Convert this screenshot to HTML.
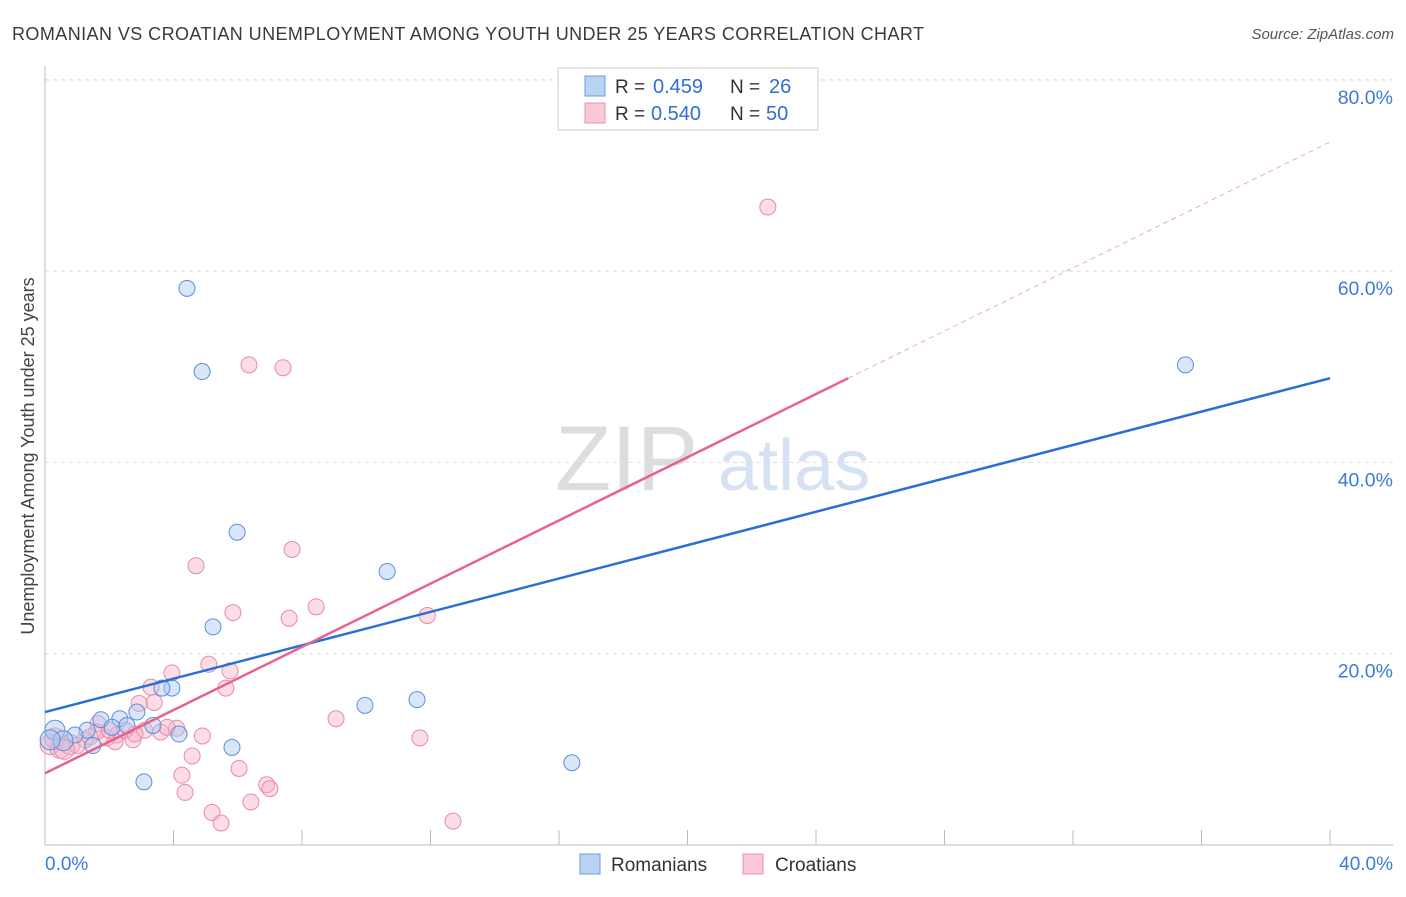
<!DOCTYPE html>
<html><head><meta charset="utf-8"><style>
body{margin:0;background:#fff;font-family:"Liberation Sans",sans-serif;}
svg text{font-family:"Liberation Sans",sans-serif;}
</style></head><body>
<svg id="c" width="1406" height="892">
<text x="12" y="40" font-size="18" fill="#3a3a3a" textLength="912" lengthAdjust="spacing">ROMANIAN VS CROATIAN UNEMPLOYMENT AMONG YOUTH UNDER 25 YEARS CORRELATION CHART</text>
<text x="1394" y="39" font-size="15" fill="#555" font-style="italic" text-anchor="end">Source: ZipAtlas.com</text>
<text x="34" y="456" font-size="18" fill="#444" text-anchor="middle" transform="rotate(-90 34 456)">Unemployment Among Youth under 25 years</text>
<g><text x="555" y="490" font-size="92" fill="#ddd" font-family="Liberation Serif">ZIP</text><text x="718" y="490" font-size="72" fill="#d4e2f4">atlas</text></g>
<g id="grid"></g><g id="marks"></g>
<g>
<rect x="558" y="68" width="260" height="62" fill="#fff" stroke="#ccc"/>
<rect x="585" y="76" width="20" height="20" fill="#b9d3f3" stroke="#6a9ee0"/>
<rect x="585" y="103" width="20" height="20" fill="#f9c9d7" stroke="#e890ab"/>
<text x="615" y="93" font-size="19" fill="#333">R =</text><text x="653" y="93" font-size="20" fill="#2f6fd6">0.459</text>
<text x="730" y="93" font-size="19" fill="#333">N =</text><text x="769" y="93" font-size="20" fill="#2f6fd6">26</text>
<text x="615" y="120" font-size="19" fill="#333">R =</text><text x="651" y="120" font-size="20" fill="#2f6fd6">0.540</text>
<text x="730" y="120" font-size="19" fill="#333">N =</text><text x="766" y="120" font-size="20" fill="#2f6fd6">50</text>
</g>
<g>
<rect x="580" y="854" width="20" height="20" fill="#b9d3f3" stroke="#6a9ee0"/>
<text x="611" y="871" font-size="19" fill="#333">Romanians</text>
<rect x="743" y="854" width="20" height="20" fill="#f9c9d7" stroke="#e890ab"/>
<text x="775" y="871" font-size="19" fill="#333">Croatians</text>
</g>
</svg>
<script>
const yTicks=[20,40,60,80];
const yTickLabels=["20.0%","40.0%","60.0%","80.0%"];
const xEndLabels=["0.0%","40.0%"];
const romX=[4.42,4.89,5.98,10.65,5.23,3.95,3.64,9.96,11.58,5.82,3.08,16.4,4.17,2.86,3.36,2.33,1.74,1.31,0.93,1.49,0.31,0.56,2.09,2.55,35.5,0.16];
const romY=[58.2,49.5,32.7,28.6,22.8,16.4,16.4,14.6,15.2,10.2,6.6,8.6,11.6,13.9,12.5,13.2,13.1,12.0,11.5,10.4,12.0,10.9,12.3,12.5,50.2,11.0];
const croX=[22.5,6.35,7.41,4.7,7.69,5.85,8.44,7.6,11.9,5.1,3.95,5.76,3.3,5.63,3.4,2.93,9.06,1.65,4.1,3.6,4.9,11.67,2.74,2.24,4.58,4.26,6.04,4.36,6.9,7.0,5.2,6.41,5.48,12.7,0.16,0.47,0.78,1.25,1.93,2.18,2.5,3.1,0.3,1.0,1.6,2.8,3.8,0.6,1.4,2.0];
const croY=[66.7,50.2,49.9,29.2,30.9,24.3,24.9,23.7,24.0,18.9,18.0,18.2,16.5,16.4,14.9,14.8,13.2,12.7,12.2,11.8,11.4,11.2,11.0,11.5,9.3,7.3,8.0,5.5,6.3,5.9,3.4,4.5,2.3,2.5,10.5,10.1,10.5,11.0,11.2,10.8,12.0,12.0,11.2,10.4,11.8,11.6,12.3,10.0,11.3,12.0];
const romTrend=[13.9,48.8];const croTrend=[7.5,48.8,73.5];
const X=v=>45+v/40*1285, Y=v=>845-v*9.565;
const ns="http://www.w3.org/2000/svg";
function mk(p,t,a){const e=document.createElementNS(ns,t);for(const k in a)e.setAttribute(k,a[k]);p.appendChild(e);return e;}
const g=document.getElementById('grid'),m=document.getElementById('marks');
let e=mk(g,'line',{x1:45,y1:80,x2:1393,y2:80,stroke:'#ddd','stroke-dasharray':'4,4'});
yTicks.forEach((t,i)=>{let l=mk(g,'line',{x1:45,y1:Y(t),x2:1393,y2:Y(t),stroke:'#ddd','stroke-dasharray':'4,4'});


let tx=mk(g,'text',{x:1393,y:Y(t)+24,'font-size':19.5,fill:'#3f7ad8','text-anchor':'end'});tx.textContent=yTickLabels[i];

});
mk(g,'line',{x1:45,y1:66,x2:45,y2:845,stroke:'#bbb'});
mk(g,'line',{x1:45,y1:845,x2:1393,y2:845,stroke:'#bbb'});
for(let i=1;i<=10;i++){let t=mk(g,'line',{x1:X(i*4),y1:830,x2:X(i*4),y2:845,stroke:'#bbb'});

}
let a=mk(g,'text',{x:45,y:870,'font-size':19,fill:'#3f7ad8'});a.textContent=xEndLabels[0];


let b=mk(g,'text',{x:1393,y:870,'font-size':19,fill:'#3f7ad8','text-anchor':'end'});b.textContent=xEndLabels[1];


croX.forEach((x,i)=>{let c=mk(m,'circle',{cx:X(x),cy:Y(croY[i]),r:x<1?10:8,fill:'rgba(248,180,200,0.45)',stroke:'#e88aa8','stroke-width':1});

});
romX.forEach((x,i)=>{let c=mk(m,'circle',{cx:X(x),cy:Y(romY[i]),r:x<0.6?10:8,fill:'rgba(170,200,240,0.45)',stroke:'#5a90dc','stroke-width':1});

});
let rl=mk(m,'line',{x1:X(0),y1:Y(romTrend[0]),x2:X(40),y2:Y(romTrend[1]),stroke:'#2b6fd6','stroke-width':2.5});


let cl=mk(m,'line',{x1:X(0),y1:Y(croTrend[0]),x2:X(25),y2:Y(croTrend[1]),stroke:'#e8628e','stroke-width':2.5});


let cd=mk(m,'line',{x1:X(25),y1:Y(croTrend[1]),x2:X(40),y2:Y(croTrend[2]),stroke:'#f0a8c0','stroke-width':1,'stroke-dasharray':'5,4'});


</script>
</body></html>
